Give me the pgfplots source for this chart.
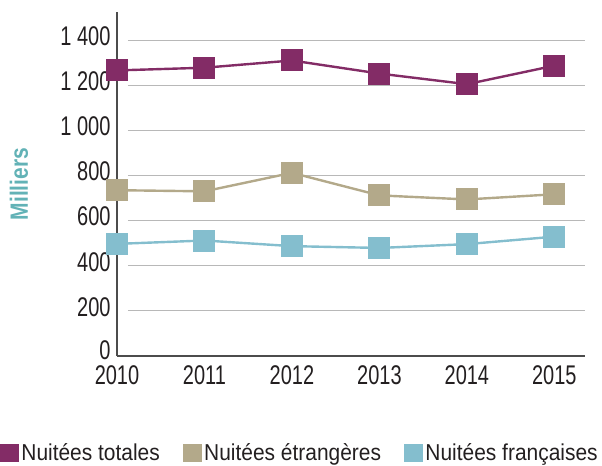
\documentclass[border=0pt]{standalone}
\usepackage{fontspec}
\setmainfont{Liberation Sans}
\newfontfamily\tickfont{Liberation Sans}[FakeStretch=0.74]
\newfontfamily\legfont{Liberation Sans}[FakeStretch=0.91]
\newfontfamily\labfont{Liberation Sans}[FakeStretch=0.84]
\usepackage{pgfplots}
\pgfplotsset{compat=1.18}
\definecolor{ctot}{HTML}{832C66}
\definecolor{cetr}{HTML}{B3A98A}
\definecolor{cfra}{HTML}{84BECE}
\definecolor{cteal}{HTML}{62B2B6}
\definecolor{ctxt}{HTML}{231F20}
\begin{document}
\begin{tikzpicture}
\begin{axis}[
  scale only axis,
  width=468bp, height=344bp,
  xmin=2010, xmax=2015.35,
  ymin=0, ymax=1525,
  axis x line*=bottom, axis y line*=left,
  axis line style={draw=black!70, line width=1.1bp},
  xtick={2010,...,2015},
  xticklabels={2010,2011,2012,2013,2014,2015},
  ytick={0,200,400,600,800,1000,1200,1400},
  yticklabels={\raisebox{4bp}{0},200,400,600,800,1 000,1 200,1 400},
  major tick length=0pt,
  tick label style={font=\tickfont\fontsize{27bp}{29bp}\selectfont, text=ctxt},
  yticklabel style={anchor=east, xshift=-3bp, yshift=4bp},
  xticklabel style={anchor=north, yshift=-6bp},
  ylabel={Milliers},
  every axis y label/.style={at={(-98bp,172bp)}, rotate=90, anchor=center,
     font=\labfont\bfseries\fontsize{25bp}{27bp}\selectfont, text=cteal},
  legend columns=3,
  legend style={at={(-117bp,-97bp)}, anchor=west, draw=none, fill=none,
    font=\legfont\fontsize{23bp}{25bp}\selectfont, text=ctxt,
    inner sep=0pt, outer sep=0pt,
    nodes={inner sep=2bp},
    /tikz/every even column/.append style={column sep=21bp}},
  legend image code/.code={\fill[#1] (0bp,-8bp) rectangle (17bp,8bp);},
  every axis plot/.append style={line width=2.4bp, mark=square*, mark size=10.5bp},
]
\pgfplotsinvokeforeach{200,400,600,800,1000,1200,1400}{
  \draw[black!28, line width=1bp] (axis cs:2010.125,#1) -- (axis cs:2015.35,#1);
}
\addplot[color=ctot, mark options={fill=ctot, draw=ctot, line width=0pt}] coordinates {(2010,1266) (2011,1278) (2012,1310) (2013,1252) (2014,1205) (2015,1287)};
\addlegendentry{Nuitées totales}
\addplot[color=cetr, mark options={fill=cetr, draw=cetr, line width=0pt}] coordinates {(2010,735) (2011,730) (2012,812) (2013,712) (2014,694) (2015,717)};
\addlegendentry{Nuitées étrangères}
\addplot[color=cfra, mark options={fill=cfra, draw=cfra, line width=0pt}] coordinates {(2010,497) (2011,512) (2012,487) (2013,479) (2014,496) (2015,529)};
\addlegendentry{Nuitées françaises}
\end{axis}
\pgfresetboundingbox
\path (-117bp,-110bp) rectangle (485bp,356bp);
\end{tikzpicture}
\end{document}
